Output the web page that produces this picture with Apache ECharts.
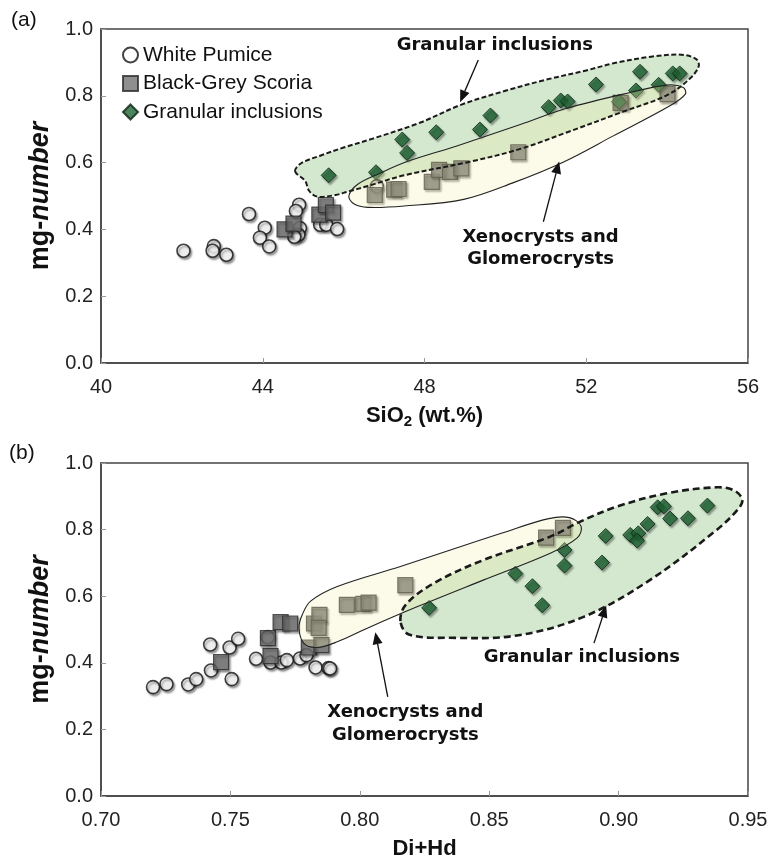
<!DOCTYPE html>
<html><head><meta charset="utf-8">
<script src="https://cdn.jsdelivr.net/npm/echarts/dist/echarts.min.js"></script>
<style>html,body{margin:0;padding:0;background:#fff}#c{width:776px;height:858px}</style>
</head><body><div id="c"></div>
<script>
// ---------- Panel (a): SiO2 (wt.%) vs mg-number ----------
const xTicksA = [40, 44, 48, 52, 56];
const yTicks = [0, 0.2, 0.4, 0.6, 0.8, 1.0];
const pumiceA = [[42.04,0.336],[42.79,0.350],[42.76,0.336],[43.10,0.324],[43.66,0.446],[44.05,0.405],[43.93,0.375],[44.16,0.349],[44.90,0.474],[44.82,0.455],[44.92,0.404],[44.88,0.384],[44.78,0.378],[45.42,0.414],[45.57,0.414],[45.84,0.401],[46.82,0.529]];
const scoriaA = [[44.54,0.400],[44.76,0.417],[45.40,0.444],[45.56,0.473],[45.74,0.450],[46.77,0.503],[47.25,0.519],[47.36,0.521],[48.18,0.542],[48.36,0.578],[48.63,0.572],[48.91,0.583],[50.32,0.631],[52.85,0.779],[54.01,0.805]];
const granularA = [[45.63,0.562],[46.80,0.571],[47.45,0.669],[47.57,0.629],[48.29,0.691],[49.37,0.699],[49.63,0.741],[51.07,0.766],[51.37,0.786],[51.54,0.783],[52.24,0.834],[52.81,0.782],[53.23,0.816],[53.33,0.872],[53.79,0.833],[54.14,0.867],[54.31,0.867]];
// field outlines (data coordinates)
const granularFieldA = [[44.80,0.574],[44.95,0.598],[45.45,0.622],[46.0,0.645],[46.7,0.671],[47.9,0.720],[48.9,0.773],[50.0,0.815],[51.0,0.848],[52.0,0.876],[52.7,0.898],[53.6,0.917],[54.35,0.923],[54.72,0.910],[54.78,0.888],[54.55,0.850],[54.0,0.802],[52.9,0.752],[51.6,0.694],[50.37,0.641],[49.1,0.602],[47.5,0.562],[46.6,0.530],[46.1,0.513],[45.8,0.503],[45.35,0.498],[45.15,0.515],[45.05,0.545]];
const xenoFieldA = [[46.13,0.500],[46.35,0.535],[46.9,0.568],[47.57,0.603],[48.8,0.650],[50.37,0.714],[51.5,0.762],[53.09,0.810],[54.0,0.832],[54.4,0.825],[54.45,0.805],[54.07,0.770],[52.67,0.680],[51.44,0.602],[50.2,0.540],[48.97,0.490],[47.5,0.470],[46.6,0.466],[46.25,0.477]];
const arrowsA = [[[49.33,0.907],[48.88,0.781]], [[50.94,0.423],[51.33,0.603]]];
const labelsA = [{x:49.74, y:0.952, text:'Granular inclusions'}, {x:50.87, y:0.344, text:'Xenocrysts and\nGlomerocrysts'}];

// ---------- Panel (b): Di+Hd vs mg-number ----------
const xTicksB = [0.70, 0.75, 0.80, 0.85, 0.90, 0.95];
const pumiceB = [[0.7201,0.327],[0.7253,0.336],[0.7337,0.335],[0.7368,0.351],[0.7422,0.455],[0.7425,0.377],[0.7497,0.446],[0.7505,0.351],[0.7530,0.472],[0.7599,0.412],[0.7644,0.477],[0.7655,0.401],[0.7697,0.401],[0.7718,0.408],[0.7769,0.413],[0.7794,0.423],[0.7829,0.386],[0.7879,0.384],[0.7885,0.383]];
const scoriaB = [[0.7464,0.402],[0.7655,0.420],[0.7645,0.474],[0.7694,0.522],[0.7731,0.518],[0.7803,0.446],[0.7852,0.453],[0.7823,0.518],[0.7844,0.544],[0.7841,0.505],[0.7950,0.574],[0.8013,0.577],[0.8034,0.581],[0.8176,0.633],[0.8720,0.776],[0.8785,0.805]];
const granularB = [[0.8268,0.565],[0.8601,0.668],[0.8667,0.630],[0.8705,0.573],[0.8791,0.739],[0.8791,0.692],[0.8950,0.781],[0.8936,0.701],[0.9045,0.784],[0.9076,0.789],[0.9072,0.767],[0.9112,0.817],[0.9151,0.867],[0.9175,0.870],[0.9199,0.833],[0.9268,0.834],[0.9343,0.872]];
const granularFieldB = [[0.8157,0.525],[0.8178,0.575],[0.8286,0.639],[0.8479,0.709],[0.8736,0.779],[0.8852,0.824],[0.8993,0.869],[0.9186,0.909],[0.9379,0.927],[0.9448,0.917],[0.9478,0.889],[0.9460,0.860],[0.9379,0.799],[0.9122,0.649],[0.8865,0.538],[0.8607,0.482],[0.8350,0.475],[0.8190,0.485]];
const xenoFieldB = [[0.7765,0.505],[0.7778,0.545],[0.7810,0.585],[0.7913,0.629],[0.8157,0.689],[0.835,0.739],[0.855,0.790],[0.8730,0.833],[0.8810,0.836],[0.8855,0.810],[0.8840,0.775],[0.8736,0.729],[0.8479,0.649],[0.8221,0.568],[0.8029,0.504],[0.7913,0.463],[0.7836,0.446],[0.7784,0.458]];
const arrowsB = [[[0.8905,0.459],[0.8952,0.572]], [[0.8108,0.298],[0.8060,0.492]]];
const labelsB = [{x:0.8858, y:0.4165, text:'Granular inclusions'}, {x:0.8176, y:0.216, text:'Xenocrysts and\nGlomerocrysts'}];

const names = ['White Pumice', 'Black-Grey Scoria', 'Granular inclusions'];

// ---------- styles ----------
const FONT = '"Liberation Sans", Arial, sans-serif';
const shadow = {shadowColor:'rgba(0,0,0,0.45)', shadowBlur:2, shadowOffsetX:1.5, shadowOffsetY:2};
const pumiceStyle = Object.assign({color:'#ffffff', borderColor:'#111', borderWidth:1.6}, shadow);
const scoriaStyle = Object.assign({color:'#737373', borderColor:'#2a2a2a', borderWidth:1.2}, shadow);
const granStyle = Object.assign({color:'#1f6634', borderColor:'#0b2414', borderWidth:1}, shadow);

function scatter(name, data, g, symbol, size, style) {
  return {type:'scatter', name, data, xAxisIndex:g, yAxisIndex:g, symbol, symbolSize:size,
    itemStyle:style, z:2, emphasis:{disabled:true}, silent:true};
}
function field(outline, g, style, z) {
  return {type:'custom', xAxisIndex:g, yAxisIndex:g, z, silent:true, clip:false,
    data:[outline[0]],
    renderItem: function (params, api) {
      const pts = outline.map(p => api.coord(p));
      return {type:'polygon', shape:{points:pts, smooth:0.35}, style:style};
    }};
}
function arrows(list, g) {
  return {type:'custom', xAxisIndex:g, yAxisIndex:g, z:5, silent:true, clip:false,
    encode:{x:[0,2], y:[1,3]},
    data:list.map(a => [a[0][0], a[0][1], a[1][0], a[1][1]]),
    renderItem: function (params, api) {
      const p0 = api.coord([api.value(0), api.value(1)]);
      const p1 = api.coord([api.value(2), api.value(3)]);
      const dx = p1[0]-p0[0], dy = p1[1]-p0[1], L = Math.hypot(dx, dy);
      const ux = dx/L, uy = dy/L, head = 12, w = 5;
      const bx = p1[0]-ux*head, by = p1[1]-uy*head;
      return {type:'group', children:[
        {type:'line', shape:{x1:p0[0], y1:p0[1], x2:bx, y2:by}, style:{stroke:'#111', lineWidth:1.3}},
        {type:'polygon', shape:{points:[p1, [bx-uy*w, by+ux*w], [bx+uy*w, by-ux*w]]}, style:{fill:'#111'}}
      ]};
    }};
}
function labels(list, g) {
  return {type:'custom', xAxisIndex:g, yAxisIndex:g, z:5, silent:true, clip:false,
    data:list.map(l => [l.x, l.y]),
    renderItem: function (params, api) {
      const p = api.coord([api.value(0), api.value(1)]);
      return {type:'text', x:p[0], y:p[1], style:{text:list[params.dataIndex].text,
        font:'bold 18px "DejaVu Sans", Verdana, sans-serif', fill:'#111',
        align:'center', verticalAlign:'middle', lineHeight:22.5}};
    }};
}

const greenFill = {fill:'#d3e8cf', stroke:'none'};
const yellowFill = {fill:'rgba(245,238,172,0.28)', stroke:'none'};
const yellowLine = {fill:'none', stroke:'#222', lineWidth:1.1};
const greenLineA = {fill:'none', stroke:'#1a1a1a', lineWidth:2, lineDash:[5,2.5]};
const greenLineB = {fill:'none', stroke:'#1a1a1a', lineWidth:2.6, lineDash:[7,4]};

function xAxis(g, ticks, name, digits) {
  return {type:'value', gridIndex:g, min:ticks[0], max:ticks[ticks.length-1], interval:ticks[1]-ticks[0],
    axisLine:{show:true, lineStyle:{color:'#444', width:1.5}},
    axisTick:{show:true, inside:true, length:5, lineStyle:{color:'#999'}},
    splitLine:{show:false},
    axisLabel:{fontSize:20, color:'#222', margin:14, fontFamily:FONT, showMinLabel:true, showMaxLabel:true,
      formatter: v => v.toFixed(digits)},
    name:name.text, nameLocation:'middle', nameGap:40,
    nameTextStyle:{rich:name.rich}};
}
function yAxis(g) {
  return {type:'value', gridIndex:g, min:yTicks[0], max:yTicks[yTicks.length-1], interval:yTicks[1]-yTicks[0],
    axisLine:{show:true, lineStyle:{color:'#444', width:1.5}},
    axisTick:{show:true, inside:true, length:5, lineStyle:{color:'#999'}},
    splitLine:{show:false},
    axisLabel:{fontSize:20, color:'#222', margin:8, fontFamily:FONT, showMinLabel:true, showMaxLabel:true,
      formatter: v => v.toFixed(1)},
    name:'{a|mg-}{b|number}', nameLocation:'middle', nameRotate:90, nameGap:46,
    nameTextStyle:{rich:{
      a:{fontSize:27, fontWeight:'bold', fontFamily:FONT, color:'#111'},
      b:{fontSize:27, fontWeight:'bold', fontStyle:'italic', fontFamily:FONT, color:'#111'}}}};
}
const titleRichBase = {fontSize:22, fontWeight:'bold', fontFamily:FONT, color:'#111', lineHeight:26};
const nameA = {text:'{a|SiO}{s|2}{a| (wt.%)}', rich:{a:titleRichBase,
  s:{fontSize:15, fontWeight:'bold', fontFamily:FONT, color:'#111', lineHeight:14, verticalAlign:'bottom'}}};
const nameB = {text:'{a|Di+Hd}', rich:{a:titleRichBase}};

const chart = echarts.init(document.getElementById('c'), null, {renderer:'canvas'});
chart.setOption({
  animation:false,
  backgroundColor:'#fff',
  grid:[
    {left:101, right:28, top:29, height:334, show:true, borderColor:'#444', borderWidth:1.5, backgroundColor:'transparent', containLabel:false, outerBoundsMode:'none'},
    {left:101, right:28, top:463, height:333, show:true, borderColor:'#444', borderWidth:1.5, backgroundColor:'transparent', containLabel:false, outerBoundsMode:'none'}
  ],
  xAxis:[xAxis(0, xTicksA, nameA, 0), xAxis(1, xTicksB, nameB, 2)],
  yAxis:[yAxis(0), yAxis(1)],
  legend:{data:names, orient:'vertical', left:117, top:39.5, itemWidth:15, itemHeight:15, itemGap:7.5,
    selectedMode:false, textStyle:{fontSize:21, fontFamily:FONT, color:'#111'}},
  graphic:[
    {type:'text', left:11, top:10, style:{text:'(a)', font:'21px "Liberation Sans", Arial, sans-serif', fill:'#111'}},
    {type:'text', left:9, top:443, style:{text:'(b)', font:'21px "Liberation Sans", Arial, sans-serif', fill:'#111'}}
  ],
  series:[
    field(granularFieldA, 0, greenFill, 1),
    field(granularFieldB, 1, greenFill, 1),
    scatter(names[0], pumiceA, 0, 'circle', 13, pumiceStyle),
    scatter(names[1], scoriaA, 0, 'rect', 15, scoriaStyle),
    scatter(names[2], granularA, 0, 'diamond', 15, granStyle),
    scatter(names[0], pumiceB, 1, 'circle', 13, pumiceStyle),
    scatter(names[1], scoriaB, 1, 'rect', 15, scoriaStyle),
    scatter(names[2], granularB, 1, 'diamond', 15, granStyle),
    field(xenoFieldA, 0, yellowFill, 3),
    field(xenoFieldB, 1, yellowFill, 3),
    field(granularFieldA, 0, greenLineA, 4),
    field(xenoFieldA, 0, yellowLine, 4),
    field(granularFieldB, 1, greenLineB, 4),
    field(xenoFieldB, 1, yellowLine, 4),
    arrows(arrowsA, 0), arrows(arrowsB, 1),
    labels(labelsA, 0), labels(labelsB, 1)
  ]
});
</script></body></html>
